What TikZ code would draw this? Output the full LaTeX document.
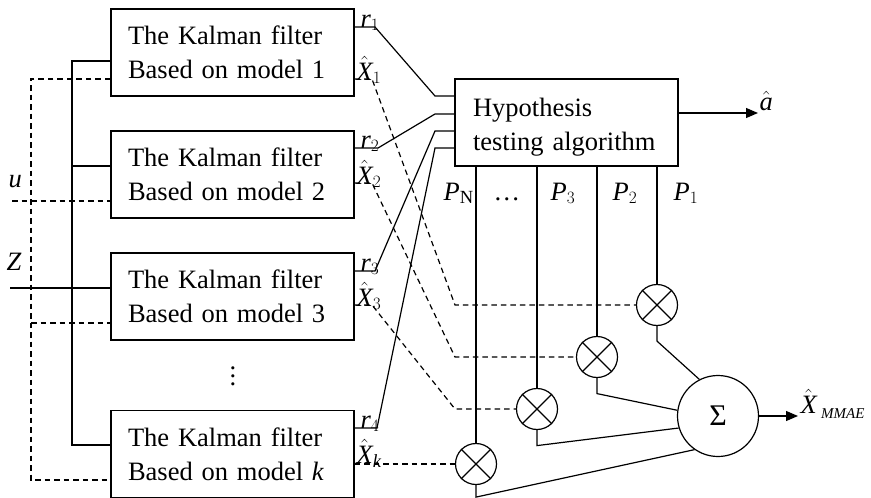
\documentclass[tikz,border=0pt]{standalone}
\usepackage{fontspec}
\setmainfont{Liberation Serif}
\usetikzlibrary{arrows.meta}
\begin{document}
\begin{tikzpicture}[x=1pt,y=-1pt,
  line width=1.2pt,
  every node/.style={font=\fontsize{26.5}{34}\selectfont, inner sep=0pt},
  fbox/.style={draw, minimum width=243pt, minimum height=87pt, text width=209pt, inner xsep=17pt, align=left},
  hbox/.style={draw, minimum width=223pt, minimum height=87pt, text width=187pt, inner xsep=18pt, align=left, text depth=30pt},
  mult/.style={circle, draw, minimum size=41pt, inner sep=0pt},
  sumc/.style={circle, draw, minimum size=81pt, inner sep=0pt, font=\fontsize{30}{30}\selectfont},
  dsh/.style={dash pattern=on 5.5pt off 4pt},
  arr/.style={-{Triangle[length=12pt,width=10pt]}},
  lab/.style={anchor=base west}
]
\useasboundingbox (0,0) rectangle (871,498);
% boxes
\node[fbox] (f1) at (232.5,52.5) {The Kalman filter\\Based on model 1};
\node[fbox] (f2) at (232.5,174.5) {The Kalman filter\\Based on model 2};
\node[fbox] (f3) at (232.5,296.5) {The Kalman filter\\Based on model 3};
\node[fbox] (fk) at (232.5,454) {The Kalman filter\\Based on model \textit{k}};
\node[hbox] (hyp) at (566.5,122.5) {Hypothesis\\testing algorithm};
\node[mult] (m1) at (657,305) {};
\node[mult] (m2) at (597,357) {};
\node[mult] (m3) at (537,409) {};
\node[mult] (mN) at (476,464) {};
\node[sumc] (sum) at (718,416) {Σ};
\foreach \m in {m1,m2,m3,mN} {\draw (\m.north east) -- (\m.south west) (\m.north west) -- (\m.south east);}
% vertical dots
\node (vd) at (233,376) {\vbox{\baselineskip=8pt \hbox{.}\hbox{.}\hbox{.}}};
% left inputs
\coordinate (bt) at (72,61); \coordinate (bb) at (72,445); \coordinate (b2) at (72,166);
\draw (f1.west |- bt) -- (bt) -- (bb) -- (fk.west |- bb);
\draw (b2) -- (f2.west |- b2);
\coordinate (zin) at (10,288);
\draw (zin) -- (f3.west |- zin);
\coordinate (dt) at (31,79); \coordinate (db) at (31,480);
\draw[dsh] (f1.west |- dt) -- (dt) -- (db) -- (fk.west |- db);
\coordinate (uin) at (12,201);
\draw[dsh] (uin) -- (f2.west |- uin);
\coordinate (d3) at (31,323);
\draw[dsh] (d3) -- (f3.west |- d3);
\node[lab] (ul) at (8,187) {\textit{u}};
\node[lab] (zl) at (6,270) {\textit{Z}};
% residuals to hypothesis box
\coordinate (r1s) at (375,27); \coordinate (h1) at (435,96);
\coordinate (r2s) at (378,148); \coordinate (h2) at (435,114);
\coordinate (r3s) at (375,271); \coordinate (h3) at (435,131);
\coordinate (r4s) at (377,428); \coordinate (h4) at (435,148);
\draw (f1.east |- r1s) -- (r1s) -- (h1) -- (hyp.west |- h1);
\draw (f2.east |- r2s) -- (r2s) -- (h2) -- (hyp.west |- h2);
\draw (f3.east |- r3s) -- (r3s) -- (h3) -- (hyp.west |- h3);
\draw (fk.east |- r4s) -- (r4s) -- (h4) -- (hyp.west |- h4);
\node[lab] (rl1) at (360,27) {$\mathit{r}_{1}$};
\node[lab] (rl2) at (360,148) {$\mathit{r}_{2}$};
\node[lab] (rl3) at (360,271) {$\mathit{r}_{3}$};
\node[lab] (rl4) at (360,428) {$\mathit{r}_{4}$};
% state estimates
\coordinate (xc) at (455,0);
\coordinate (x1s) at (372,79);
\coordinate (x2s) at (372,183);
\coordinate (x3s) at (372,305);
\draw[dsh] (f1.east |- x1s) -- (x1s) -- (xc |- m1) -- (m1.west);
\draw[dsh] (f2.east |- x2s) -- (x2s) -- (xc |- m2) -- (m2.west);
\draw[dsh] (f3.east |- x3s) -- (x3s) -- (xc |- m3) -- (m3.west);
\draw[dsh] (fk.east |- mN) -- (mN.west);
\node[lab] (xl1) at (356,80) {$\hat{\mathit{X}}_{1}$};
\node[lab] (xl2) at (356,184) {$\hat{\mathit{X}}_{2}$};
\node[lab] (xl3) at (356,306) {$\hat{\mathit{X}}_{3}$};
\node[lab] (xlk) at (356,463) {$\hat{\mathit{X}}_{\mathit{k}}$};
% probabilities
\foreach \m in {m1,m2,m3,mN} {\draw (hyp.south -| \m) -- (\m.north);}
\node[lab] (pN) at (443,200) {$\mathit{P}_{\mathrm{N}}$};
\node[lab] (pd) at (493,200) {…};
\node[lab] (p3) at (550,200) {$\mathit{P}_{3}$};
\node[lab] (p2) at (612,200) {$\mathit{P}_{2}$};
\node[lab] (p1) at (673,200) {$\mathit{P}_{1}$};
% to sum
\draw (m1.south) -- ++(0,15) -- (sum.117);
\draw (m2.south) -- ++(0,15.5) -- (sum.172);
\draw (m3.south) -- ++(0,15.5) -- (sum.197);
\draw (mN.south) -- ++(0,12) -- (sum.235);
% outputs
\coordinate (aout) at (758,113);
\draw[arr] (hyp.east |- aout) -- (aout);
\node[lab] (al) at (759,110) {$\hat{\mathit{a}}$};
\coordinate (sout) at (798,416);
\draw[arr] (sum.east) -- (sout);
\node[lab] (xm) at (800,413) {$\hat{\mathit{X}}$\,\raisebox{-5pt}{\fontsize{15}{15}\selectfont\itshape MMAE}};
\end{tikzpicture}
\end{document}
